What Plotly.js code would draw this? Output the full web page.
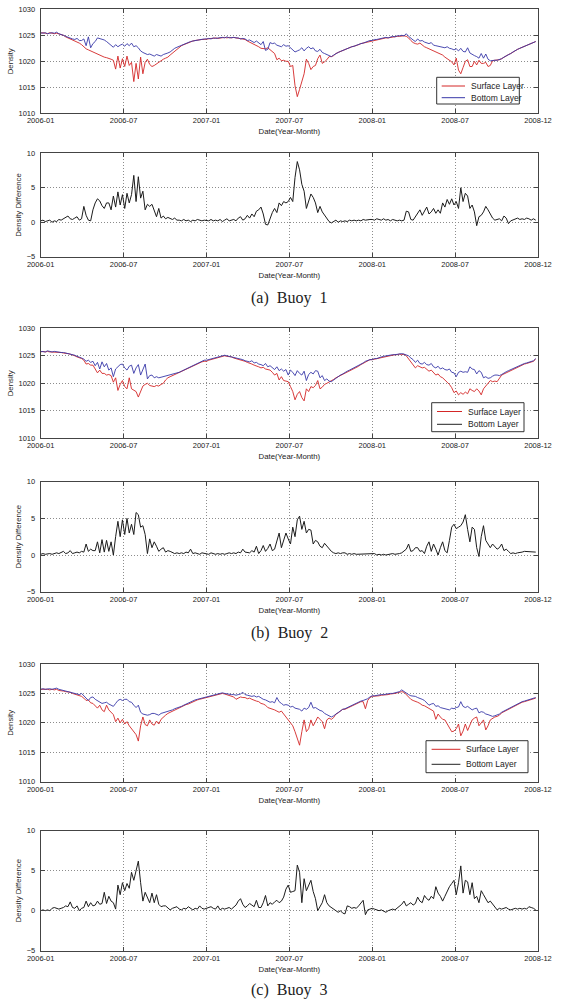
<!DOCTYPE html>
<html><head><meta charset="utf-8">
<script src="https://cdn.plot.ly/plotly-3.0.1.min.js"></script>
<style>html,body{margin:0;padding:0;background:#fff}#chart{width:562px;height:1000px}</style>
</head><body><div id="chart"></div>
<script>
// ---- sampling calendar ----
const startDate = '2006-01-01';
const stepDays = 5;
const tickDates = ['2006-01-01','2006-07-02 12:00','2007-01-01','2007-07-02 12:00','2008-01-01','2008-07-01 12:00','2008-12-31'];
const tickLabels = ['2006-01','2006-07','2007-01','2007-07','2008-01','2008-07','2008-12'];
const densityTicks = [1010,1015,1020,1025,1030];
const diffTicks = [-5,0,5,10];
const seriesNames = ['Surface Layer','Bottom Layer'];
const captions = ['(a)\u00a0\u00a0Buoy\u00a0\u00a01','(b)\u00a0\u00a0Buoy\u00a0\u00a02','(c)\u00a0\u00a0Buoy\u00a0\u00a03'];

// ---- Buoy 1 ----
const surface1 = [
1025.4,1025.5,1025.4,1025.3,1025.5,1025.4, 1025.3,1025.4,1025.3,1025.1,1025.0,1024.7,
1024.5,1024.3,1024.1,1024.0,1023.8,1023.5, 1023.2,1022.8,1022.4,1022.2,1022.0,1021.7,
1021.5,1021.3,1021.1,1021.0,1020.8,1020.7, 1020.6,1020.4,1020.2,1018.5,1021.0,1018.7,
1020.5,1019.0,1021.0,1019.2,1019.8,1016.1, 1019.6,1016.6,1020.8,1017.6,1019.8,1020.4,1019.4,
1019.0,1019.2,1019.5,1019.8,1020.2,1020.4, 1020.6,1020.8,1021.2,1021.6,1022.0,1022.3,
1022.7,1023.0,1023.2,1023.4,1023.6,1023.8, 1023.9,1024.0,1024.1,1024.1,1024.2,1024.2,
1024.3,1024.3,1024.4,1024.4,1024.5,1024.4, 1024.5,1024.5,1024.6,1024.5,1024.6,1024.5,
1024.6,1024.5,1024.4,1024.4,1024.3,1024.2, 1023.9,1023.7,1023.5,1023.2,1023.0,1022.8,
1022.5,1022.4,1022.4,1022.6,1022.2,1021.8, 1021.5,1020.3,1020.6,1020.1,1020.2,1020.0,
1020.0,1019.0,1019.2,1015.3,1013.2,1014.6, 1016.4,1017.6,1020.4,1019.6,1018.4,1019.0,1019.2,
1020.5,1021.2,1019.6,1019.9,1020.3,1020.9, 1020.9,1021.1,1021.5,1021.7,1021.9,1022.1,
1022.3,1022.5,1022.6,1022.8,1022.9,1023.0, 1023.2,1023.4,1023.5,1023.7,1023.8,1023.9,
1024.0,1024.1,1024.2,1024.3,1024.3,1024.4, 1024.5,1024.5,1024.6,1024.7,1024.7,1024.8,
1024.8,1024.9,1024.9,1024.8,1024.5,1024.0, 1023.6,1023.4,1023.3,1023.5,1023.1,1022.8,
1022.6,1022.4,1022.3,1022.1,1021.9,1021.7, 1021.4,1021.2,1020.8,1020.5,1020.2,1019.9,
1019.3,1020.6,1018.3,1017.6,1018.8,1020.0, 1020.3,1019.0,1019.0,1020.0,1019.3,1020.2,1019.6,
1019.6,1019.8,1019.0,1019.2,1020.1,1020.2, 1020.2,1020.3,1020.5,1020.8,1021.0,1021.3,
1021.5,1021.8,1022.1,1022.3,1022.5,1022.7, 1022.9,1023.1,1023.3,1023.4,1023.6,1023.8
];
const bottom1 = [
1025.5,1025.4,1025.5,1025.3,1025.4,1025.5, 1025.4,1025.6,1025.3,1025.2,1025.0,1024.8,
1024.6,1024.4,1024.3,1024.2,1024.4,1024.0, 1024.0,1024.3,1023.0,1024.7,1022.6,1023.4,
1023.8,1024.5,1024.4,1024.3,1024.1,1023.8, 1023.4,1023.0,1022.7,1023.2,1022.8,1023.1,
1023.3,1022.9,1023.4,1023.0,1023.5,1022.8, 1023.0,1022.6,1022.0,1021.7,1021.5,1021.3,1021.4,
1021.2,1021.0,1021.3,1021.1,1021.0,1021.3, 1021.4,1021.6,1021.8,1022.2,1022.5,1022.7,
1022.9,1023.1,1023.3,1023.5,1023.7,1023.8, 1023.9,1024.0,1024.1,1024.2,1024.2,1024.3,
1024.3,1024.4,1024.3,1024.5,1024.4,1024.5, 1024.5,1024.6,1024.5,1024.7,1024.5,1024.6,
1024.6,1024.5,1024.5,1024.3,1024.4,1024.3, 1024.0,1024.1,1023.8,1023.6,1023.9,1023.5,
1023.2,1023.8,1022.1,1022.3,1023.6,1023.4, 1023.5,1023.1,1023.0,1022.8,1023.2,1022.9,
1023.0,1022.6,1022.2,1021.8,1022.0,1022.2, 1022.6,1022.0,1022.5,1022.8,1022.4,1022.6,1022.0,
1021.9,1022.3,1021.7,1021.5,1021.3,1021.1, 1020.9,1021.2,1021.5,1021.7,1021.9,1022.1,
1022.3,1022.5,1022.6,1022.8,1022.9,1023.1, 1023.2,1023.4,1023.5,1023.7,1023.8,1024.0,
1024.0,1024.2,1024.2,1024.3,1024.4,1024.4, 1024.6,1024.5,1024.7,1024.8,1024.7,1024.9,
1024.9,1025.0,1024.9,1025.3,1024.8,1024.4, 1024.1,1023.8,1024.3,1023.9,1024.0,1023.7,
1023.5,1023.4,1023.6,1023.1,1023.0,1022.9, 1022.9,1022.7,1022.6,1022.8,1022.5,1022.4,
1022.2,1022.4,1022.0,1022.5,1021.9,1021.8, 1022.6,1021.6,1021.3,1021.1,1020.9,1020.6,1021.5,
1020.6,1021.4,1020.4,1020.1,1020.2,1020.2, 1020.2,1020.3,1020.5,1020.8,1021.0,1021.3,
1021.5,1021.8,1022.1,1022.3,1022.5,1022.7, 1022.9,1023.1,1023.3,1023.5,1023.6,1023.8
];
const diff1 = [
0.2,0.3,0.1,0.2,0.3,0.0, 0.2,0.1,0.4,0.3,0.5,0.6,
0.9,0.5,0.4,0.6,0.8,0.3, 0.5,2.3,1.0,0.3,0.2,1.8,
2.8,3.4,3.1,2.4,2.0,2.8, 2.8,1.8,3.8,2.2,4.4,2.5,
4.0,2.0,4.2,2.8,4.0,6.8, 3.0,6.6,3.5,4.5,1.8,2.6,2.3,
2.6,1.8,0.8,2.0,0.6,0.9, 0.5,0.7,0.5,0.4,0.6,0.3,
0.3,0.2,0.4,0.2,0.3,0.1, 0.3,0.2,0.4,0.3,0.2,0.3,
0.3,0.2,0.4,0.2,0.3,0.2, 0.4,0.1,0.3,0.5,0.2,0.3,
0.4,0.2,0.6,0.8,0.3,0.5, 1.0,0.6,1.2,0.8,1.6,1.8,
2.2,1.2,-0.3,-0.4,0.6,1.4, 2.0,1.4,2.8,2.4,3.0,2.8,
3.0,3.6,3.0,6.5,8.8,7.6, 5.5,4.5,2.0,3.0,4.1,3.6,2.8,
1.4,2.3,1.5,1.0,0.6,0.1, -0.1,0.1,0.3,0.0,0.2,0.1,
0.2,0.1,0.3,0.2,0.3,0.2, 0.3,0.2,0.4,0.3,0.4,0.4,
0.4,0.3,0.5,0.4,0.3,0.5, 0.3,0.4,0.2,0.4,0.3,0.2,
0.3,0.2,0.3,1.6,1.5,0.4, 0.3,0.8,1.2,1.8,1.0,1.6,
2.2,1.2,1.5,2.0,1.3,1.8, 1.3,2.8,2.2,3.3,2.6,3.4,
2.5,3.0,2.0,5.0,3.0,4.2, 3.8,2.0,2.5,1.5,-0.5,0.8,1.0,
1.5,2.3,1.8,1.2,0.6,0.3, 0.4,0.5,0.2,0.9,0.6,-0.2,
0.2,0.3,0.5,0.6,0.4,0.5, 0.4,0.6,0.5,0.3,0.5,0.3
];

// ---- Buoy 2 ----
const surface2 = [
1025.7,1025.8,1025.7,1025.8,1025.7,1025.7, 1025.7,1025.6,1025.7,1025.6,1025.5,1025.5,
1025.4,1025.3,1025.2,1025.0,1024.8,1024.7, 1024.5,1024.2,1023.5,1023.6,1023.3,1023.3,
1022.5,1021.9,1022.4,1021.8,1021.8,1021.5, 1021.6,1021.4,1020.2,1021.0,1018.7,1019.8,
1020.5,1019.4,1019.0,1021.0,1019.0,1018.8, 1018.5,1017.5,1018.5,1019.5,1019.8,1020.0,1019.6,
1019.5,1019.4,1019.6,1019.5,1019.8,1020.0, 1020.6,1021.0,1021.2,1021.4,1021.6,1021.7,
1021.9,1022.1,1022.3,1022.5,1022.7,1023.0, 1023.1,1023.3,1023.5,1023.7,1023.9,1024.0,
1024.0,1024.2,1024.3,1024.5,1024.6,1024.7, 1024.8,1024.9,1025.0,1024.9,1024.9,1024.8,
1024.6,1024.5,1024.4,1024.3,1024.1,1024.0, 1023.8,1023.7,1023.5,1023.3,1023.2,1023.0,
1022.8,1022.9,1022.6,1022.5,1022.4,1022.0, 1021.5,1021.8,1020.6,1021.2,1020.5,1020.4,
1020.3,1019.4,1018.5,1017.0,1018.0,1018.5, 1017.4,1016.8,1019.0,1018.5,1019.4,1019.2,1019.6,
1020.5,1019.0,1019.3,1019.8,1020.0,1020.2, 1020.4,1020.7,1021.0,1021.2,1021.4,1021.7,
1021.9,1022.1,1022.3,1022.5,1022.7,1022.9, 1023.1,1023.4,1023.6,1023.9,1024.1,1024.3,
1024.3,1024.4,1024.5,1024.6,1024.7,1024.8, 1024.9,1025.0,1025.0,1025.1,1025.2,1025.2,
1025.3,1025.2,1025.3,1025.0,1024.5,1023.8, 1023.5,1022.8,1023.2,1023.0,1022.8,1022.9,
1022.6,1022.2,1022.4,1022.0,1021.5,1021.7, 1021.2,1021.0,1020.5,1020.2,1019.8,1019.2,
1018.3,1018.6,1017.9,1018.3,1018.0,1018.4, 1018.1,1019.0,1018.7,1018.5,1019.0,1018.6,1017.9,
1019.0,1019.5,1020.0,1020.5,1020.3,1020.4, 1020.3,1020.9,1021.5,1021.7,1021.9,1022.2,
1022.4,1022.6,1022.8,1023.0,1023.2,1023.4, 1023.5,1023.6,1023.7,1023.8,1024.0,1024.4
];
const bottom2 = [
1025.8,1025.8,1025.7,1025.9,1025.8,1025.7, 1025.8,1025.7,1025.7,1025.6,1025.6,1025.5,
1025.5,1025.4,1025.2,1025.1,1024.9,1024.8, 1024.6,1024.4,1024.0,1024.2,1023.8,1024.0,
1023.2,1023.8,1022.6,1023.9,1023.0,1023.6, 1022.4,1022.8,1021.2,1022.6,1023.1,1023.4,
1023.5,1022.8,1022.4,1023.1,1023.3,1021.8, 1022.8,1023.4,1021.5,1022.6,1023.5,1020.8,1021.4,
1021.5,1021.0,1021.2,1021.0,1021.1,1021.2, 1021.3,1021.4,1021.5,1021.6,1021.7,1021.8,
1022.0,1022.2,1022.4,1022.6,1022.8,1023.1, 1023.2,1023.4,1023.6,1023.8,1024.0,1024.2,
1024.2,1024.3,1024.4,1024.5,1024.7,1024.8, 1024.9,1025.0,1025.1,1025.0,1024.9,1024.9,
1024.7,1024.6,1024.6,1024.4,1024.3,1024.1, 1024.0,1023.9,1024.1,1023.7,1023.8,1023.5,
1023.4,1023.2,1023.6,1023.0,1023.2,1022.8, 1022.5,1023.0,1022.3,1022.6,1022.2,1022.5,
1021.5,1022.4,1022.0,1021.4,1022.3,1021.8, 1021.5,1022.2,1020.5,1021.6,1022.0,1021.7,1022.3,
1022.2,1021.0,1021.4,1020.5,1020.8,1020.4, 1020.3,1020.6,1021.0,1021.2,1021.5,1021.7,
1022.0,1022.2,1022.4,1022.6,1022.8,1023.0, 1023.2,1023.5,1023.7,1024.0,1024.2,1024.3,
1024.3,1024.5,1024.5,1024.7,1024.8,1024.9, 1025.0,1025.1,1025.1,1025.2,1025.2,1025.3,
1025.3,1025.4,1025.3,1025.1,1025.0,1024.6, 1024.3,1023.8,1024.2,1023.6,1023.5,1023.8,
1023.4,1023.3,1023.6,1023.0,1022.8,1023.1, 1022.6,1022.8,1022.5,1022.4,1022.6,1022.0,
1021.9,1021.2,1022.0,1022.2,1022.0,1022.1, 1022.0,1023.0,1022.6,1022.5,1021.7,1022.3,1022.0,
1021.0,1021.2,1020.9,1021.0,1021.3,1021.5, 1021.5,1021.4,1021.6,1021.9,1022.1,1022.3,
1022.5,1022.7,1022.9,1023.1,1023.3,1023.5, 1023.6,1023.7,1023.8,1023.9,1024.1,1024.5
];
const diff2 = [
0.1,0.2,0.1,0.2,0.2,0.1, 0.2,0.3,0.2,0.3,0.5,0.2,
0.3,0.6,0.2,0.3,0.4,0.3, 0.5,0.4,1.5,0.5,0.8,0.6,
0.6,1.8,0.3,2.1,0.4,2.0, 0.5,1.8,0.0,2.5,4.6,2.5,
4.8,2.8,5.0,3.0,4.2,2.8, 5.8,5.5,3.8,4.0,2.8,0.2,2.2,
1.0,1.8,1.2,0.5,0.8,1.0, 0.4,0.6,0.5,0.3,0.2,0.3,
0.2,0.3,0.2,0.4,0.3,0.8, 0.2,0.3,0.2,0.1,0.3,0.2,
0.2,0.1,0.3,0.2,0.1,0.2, 0.1,0.2,0.1,0.2,0.3,0.2,
0.3,0.2,0.4,0.3,0.8,0.4, 0.3,0.3,0.6,0.4,1.2,0.2,
0.6,1.3,0.5,0.9,1.5,0.6, 0.8,2.0,3.0,1.0,2.0,3.0,
2.2,1.5,3.8,2.5,4.8,5.3, 3.5,4.6,3.0,3.5,3.4,1.5,2.0,
1.8,1.2,1.0,1.6,1.2,0.8, 0.5,0.3,0.2,0.3,0.2,0.3,
0.3,0.1,0.2,0.1,0.2,0.1, 0.1,0.2,0.1,0.1,0.2,0.1,
0.1,0.2,0.0,0.1,0.0,0.1, 0.0,0.1,0.1,0.2,0.1,0.1,
0.2,0.3,0.5,0.8,1.5,0.5, 0.6,1.0,1.0,0.5,0.6,0.2,
1.2,1.8,0.5,1.5,0.8,0.0, 1.0,1.8,0.6,0.3,2.0,3.8,
4.2,3.6,3.8,4.0,4.5,5.5, 3.5,1.8,3.8,3.5,1.0,-0.2,2.5,
4.0,2.0,1.5,1.0,1.5,1.2, 0.8,1.0,1.5,0.6,0.8,0.5,
0.2,0.3,0.2,0.3,0.3,0.4, 0.5,0.5,0.4,0.5,0.4,0.4
];

// ---- Buoy 3 ----
const surface3 = [
1025.7,1025.7,1025.8,1025.7,1025.6,1025.7, 1025.6,1025.7,1025.5,1025.5,1025.4,1025.3,
1025.3,1025.2,1025.0,1024.9,1024.7,1024.6, 1024.5,1024.2,1023.8,1023.9,1023.4,1023.3,
1022.8,1022.5,1023.0,1022.2,1021.9,1023.0, 1022.2,1021.8,1021.4,1020.2,1020.8,1020.0,
1020.6,1019.8,1020.2,1019.5,1019.0,1018.6, 1018.0,1016.9,1019.5,1021.0,1019.7,1019.5,1020.5,
1019.8,1019.6,1020.3,1019.8,1020.6,1021.0, 1021.3,1021.6,1021.8,1022.0,1022.2,1022.4,
1022.5,1022.7,1022.9,1023.1,1023.2,1023.4, 1023.6,1023.8,1023.9,1024.0,1024.1,1024.3,
1024.3,1024.4,1024.5,1024.6,1024.7,1024.8, 1024.9,1025.0,1024.9,1024.8,1024.7,1024.5,
1024.4,1024.0,1024.2,1024.4,1024.3,1024.3, 1024.1,1024.2,1024.0,1023.8,1023.7,1023.6,
1023.3,1023.2,1023.0,1022.6,1022.5,1022.3, 1022.2,1022.0,1021.8,1022.0,1021.5,1020.8,
1020.5,1020.0,1019.5,1018.5,1017.5,1016.2, 1018.5,1020.5,1018.5,1019.0,1020.5,1019.5,1020.2,
1021.0,1020.6,1020.2,1019.0,1020.5,1020.8, 1020.6,1020.9,1021.5,1021.7,1022.0,1022.3,
1022.3,1022.5,1022.7,1022.9,1023.1,1023.3, 1023.4,1023.6,1023.6,1022.4,1023.8,1024.3,
1024.5,1024.5,1024.6,1024.6,1024.7,1024.7, 1024.8,1024.8,1024.9,1024.9,1025.0,1025.1,
1025.2,1025.3,1025.2,1024.8,1024.4,1024.0, 1023.8,1023.7,1023.5,1023.3,1023.0,1022.9,
1022.7,1022.5,1022.3,1022.0,1020.6,1021.5, 1021.0,1020.6,1020.5,1019.8,1019.0,1018.5,
1018.6,1019.0,1019.8,1017.8,1018.6,1019.8, 1018.7,1019.6,1020.5,1020.8,1021.0,1019.5,1020.0,
1020.5,1018.8,1019.5,1020.5,1020.8,1021.0, 1021.1,1021.3,1021.7,1021.9,1022.1,1022.3,
1022.6,1022.8,1023.0,1023.2,1023.4,1023.5, 1023.6,1023.7,1023.8,1023.9,1024.0,1024.2
];
const bottom3 = [
1025.7,1025.8,1025.7,1025.8,1025.8,1025.7, 1025.8,1025.9,1025.7,1025.6,1025.6,1025.4,
1025.4,1025.3,1025.2,1025.1,1025.0,1024.8, 1025.0,1024.6,1024.2,1023.8,1024.3,1024.4,
1024.0,1023.8,1023.6,1023.3,1023.4,1023.5, 1023.2,1023.0,1022.8,1023.3,1023.8,1024.0,
1023.8,1024.0,1024.0,1023.6,1023.5,1023.0, 1022.6,1023.0,1021.8,1021.5,1021.4,1021.3,1021.4,
1021.6,1021.6,1021.4,1021.3,1021.6,1021.7, 1021.8,1021.9,1022.0,1022.2,1022.4,1022.5,
1022.6,1022.8,1023.0,1023.2,1023.3,1023.5, 1023.7,1023.9,1024.0,1024.1,1024.2,1024.4,
1024.4,1024.5,1024.6,1024.7,1024.8,1024.9, 1025.0,1025.1,1025.0,1024.9,1024.9,1024.8,
1024.8,1024.7,1024.8,1024.9,1025.2,1024.8, 1024.7,1024.6,1024.5,1024.6,1024.4,1024.5,
1024.2,1024.0,1023.9,1023.7,1023.5,1023.6, 1023.4,1024.3,1023.6,1023.3,1023.0,1023.1,
1023.0,1022.7,1022.8,1022.5,1022.4,1022.3, 1022.0,1022.5,1022.3,1022.6,1023.5,1022.5,1022.6,
1022.3,1022.1,1022.0,1021.6,1021.4,1021.2, 1021.0,1021.2,1021.5,1021.8,1022.1,1022.3,
1022.4,1022.6,1022.8,1023.0,1023.2,1023.4, 1023.5,1023.7,1023.8,1023.9,1024.1,1024.4,
1024.6,1024.6,1024.7,1024.7,1024.8,1024.8, 1024.9,1024.9,1025.0,1025.0,1025.1,1025.3,
1025.3,1025.6,1025.3,1025.0,1024.8,1024.6, 1024.6,1024.5,1024.3,1024.2,1024.0,1023.8,
1023.4,1023.0,1023.2,1023.3,1022.8,1022.9, 1022.6,1022.5,1022.4,1022.3,1022.2,1022.5,
1022.4,1022.6,1022.7,1023.6,1022.8,1022.6, 1022.8,1022.5,1022.2,1022.4,1022.5,1021.7,1021.9,
1021.8,1021.5,1021.4,1021.2,1021.1,1021.2, 1021.3,1021.5,1021.8,1022.0,1022.2,1022.4,
1022.7,1022.9,1023.1,1023.3,1023.5,1023.6, 1023.7,1023.8,1023.9,1024.0,1024.1,1024.3
];
const diff3 = [
0.0,0.1,0.0,0.1,0.0,0.3, 0.4,0.3,0.2,0.3,0.4,0.6,
0.5,1.1,0.4,0.3,0.6,0.0, 0.3,0.4,1.2,0.5,1.0,0.6,
0.7,1.2,0.8,0.9,2.3,0.9, 1.8,1.2,1.0,0.2,3.2,2.0,
3.5,2.5,3.4,2.8,4.8,3.8, 5.0,6.2,3.5,1.2,2.3,1.6,1.0,
2.2,1.0,2.0,0.8,0.5,0.6, 0.6,0.3,0.1,0.3,0.4,0.5,
0.2,0.1,0.3,0.2,0.5,0.3, 0.1,0.3,0.2,0.6,0.3,0.2,
0.3,0.4,0.5,0.3,0.2,0.6, 0.1,0.3,0.2,0.3,0.4,0.2,
0.4,0.7,1.2,1.5,0.8,0.4, 0.6,0.9,0.7,0.5,1.3,0.4,
0.4,1.0,1.9,0.6,1.0,0.8, 1.1,1.3,1.0,1.2,1.7,2.7,
3.2,2.3,2.4,2.5,5.7,4.8, 1.0,4.0,2.5,3.2,3.8,2.4,1.5,
0.0,0.6,1.0,2.0,1.0,0.6, 0.4,0.2,0.1,-0.2,0.0,-0.3,
-0.4,0.6,0.5,0.3,0.4,0.3, 0.6,0.9,1.3,-0.5,0.1,0.2,
0.3,0.2,0.1,0.0,0.1,-0.1, -0.2,0.0,0.1,0.2,0.1,0.3,
0.5,0.8,1.2,0.6,0.8,1.0, 0.7,0.9,1.7,1.2,1.0,1.9,
1.5,1.3,1.8,1.5,3.0,2.2, 1.8,1.2,1.8,2.5,3.0,3.4,
3.8,2.0,3.5,5.6,2.2,3.8, 3.6,2.0,3.5,1.5,1.8,1.0,2.5,
2.0,1.5,1.0,1.2,0.8,0.4, 0.1,0.3,0.2,0.3,0.4,0.2,
0.1,0.2,0.3,0.2,0.3,0.2, 0.3,0.2,0.5,0.4,0.3,0.1
];

// ---- build ----
function datesFor(arr){
  const t0 = Date.parse(startDate + 'T00:00:00Z');
  return arr.map((_, i) => new Date(t0 + i*stepDays*86400000).toISOString().slice(0,10));
}
const W = 562, H = 1000;
const FONT = 'Liberation Sans, Arial, sans-serif';
const RED = '#d42626', BLUE = '#3838a8', BLACK = '#1c1c1c';
const GRID = '#8c8c8c';
// pixel boxes [top, bottom] for the six panels
const panelY = [[9.3,113.3],[153.3,256.7],[328.3,438.3],[481.7,591.7],[664,781.7],[830.7,950.7]];
const panelX = [40.7, 538];
const captionY = [298, 633, 990];
const legendBoxes = [
  {x0:436.7,x1:519.3,y0:77.3,y1:104, r1:86, r2:97.7, l0:441.7, l1:465, tx:469, c2:BLUE},
  {x0:431.7,x1:524,y0:402.7,y1:431.7, r1:411.5, r2:424.3, l0:437, l1:462, tx:466, c2:'#222'},
  {x0:426,x1:528,y0:740.7,y1:772.7, r1:749.3, r2:764.3, l0:431.6, l1:460.4, tx:464, c2:'#222'}
];

const buoys = [[surface1,bottom1,diff1],[surface2,bottom2,diff2],[surface3,bottom3,diff3]];
const data = [];
const layout = {
  width: W, height: H, margin:{l:0,r:0,t:0,b:0},
  paper_bgcolor:'#fff', plot_bgcolor:'#fff', showlegend:false,
  font:{family:FONT, size:7.5, color:'#222'},
  shapes:[], annotations:[]
};
function xAxis(k){
  return {
    domain:[panelX[0]/W, panelX[1]/W], anchor:'y'+(k===1?'':k),
    type:'date', range:[tickDates[0], tickDates[6]],
    tickmode:'array', tickvals:tickDates, ticktext:tickLabels,
    ticks:'inside', ticklen:4, tickcolor:'#444', showline:true, linecolor:'#444', linewidth:1, mirror:'ticks',
    showgrid:true, gridcolor:GRID, griddash:'1px,2px', gridwidth:1, zeroline:false,
    tickfont:{family:FONT,size:7.5,color:'#222'},
    title:{text:'Date(Year-Month)', font:{family:FONT,size:7.8,color:'#222'}, standoff:4},
    automargin:false
  };
}
function yAxis(k, isDiff){
  return {
    domain:[1-panelY[k-1][1]/H, 1-panelY[k-1][0]/H], anchor:'x'+(k===1?'':k),
    range: isDiff ? [-5,10] : [1010,1030],
    tickmode:'array', tickvals: isDiff ? diffTicks : densityTicks,
    ticks:'inside', ticklen:4, tickcolor:'#444', showline:true, linecolor:'#444', linewidth:1, mirror:'ticks',
    showgrid:true, gridcolor:GRID, griddash:'1px,2px', gridwidth:1, zeroline:false,
    tickfont:{family:FONT,size:7.5,color:'#222'}, ticklabelstandoff:3,
    title:{text: isDiff ? 'Density Difference' : 'Density', font:{family:FONT,size:7.8,color:'#222'}, standoff:3},
    automargin:false
  };
}
buoys.forEach((b, j) => {
  const kd = 2*j+1, kf = 2*j+2;
  const sx = kd===1?'':kd, fx = kf;
  const d = datesFor(b[0]);
  data.push({x:d, y:b[0], type:'scatter', mode:'lines', name:seriesNames[0], xaxis:'x'+sx, yaxis:'y'+sx, line:{color:RED,width:0.9}});
  data.push({x:d, y:b[1], type:'scatter', mode:'lines', name:seriesNames[1], xaxis:'x'+sx, yaxis:'y'+sx, line:{color:BLUE,width:0.9}});
  const dd = datesFor(b[2]);
  data.push({x:dd, y:b[2], type:'scatter', mode:'lines', name:'Density Difference', xaxis:'x'+fx, yaxis:'y'+fx, line:{color:BLACK,width:1}});
  layout['xaxis'+sx] = xAxis(kd); layout['yaxis'+sx] = yAxis(kd,false);
  layout['xaxis'+fx] = xAxis(kf); layout['yaxis'+fx] = yAxis(kf,true);
  // legend (box, samples, labels)
  const L = legendBoxes[j];
  layout.shapes.push({type:'rect', xref:'paper', yref:'paper', x0:L.x0/W, x1:L.x1/W, y0:1-L.y1/H, y1:1-L.y0/H, line:{color:'#333',width:1}, fillcolor:'#fff', layer:'above'});
  layout.shapes.push({type:'line', xref:'paper', yref:'paper', x0:L.l0/W, x1:L.l1/W, y0:1-L.r1/H, y1:1-L.r1/H, line:{color:RED,width:1}, layer:'above'});
  layout.shapes.push({type:'line', xref:'paper', yref:'paper', x0:L.l0/W, x1:L.l1/W, y0:1-L.r2/H, y1:1-L.r2/H, line:{color:L.c2,width:1}, layer:'above'});
  layout.annotations.push({xref:'paper', yref:'paper', x:L.tx/W, y:1-L.r1/H, xanchor:'left', yanchor:'middle', showarrow:false, text:seriesNames[0], font:{family:FONT,size:8.5,color:'#222'}});
  layout.annotations.push({xref:'paper', yref:'paper', x:L.tx/W, y:1-L.r2/H, xanchor:'left', yanchor:'middle', showarrow:false, text:seriesNames[1], font:{family:FONT,size:8.5,color:'#222'}});
  layout.annotations.push({xref:'paper', yref:'paper', x:289/W, y:1-captionY[j]/H, xanchor:'center', yanchor:'middle', showarrow:false, text:captions[j], font:{family:'Liberation Serif, Times New Roman, serif',size:16,color:'#222'}});
});
Plotly.newPlot('chart', data, layout, {staticPlot:true, displayModeBar:false});
</script></body></html>
